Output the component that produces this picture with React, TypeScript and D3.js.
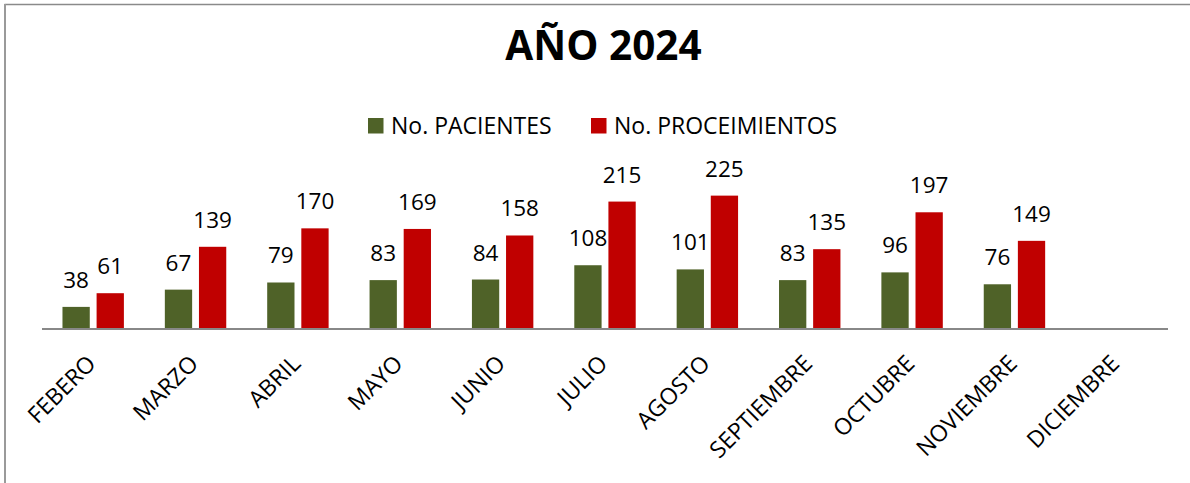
import React from "react";
import * as d3 from "d3";

const categories = ["FEBERO", "MARZO", "ABRIL", "MAYO", "JUNIO", "JULIO", "AGOSTO", "SEPTIEMBRE", "OCTUBRE", "NOVIEMBRE", "DICIEMBRE"];
const pacientes: (number | null)[] = [38, 67, 79, 83, 84, 108, 101, 83, 96, 76, null];
const procedimientos: (number | null)[] = [61, 139, 170, 169, 158, 215, 225, 135, 197, 149, null];
const seriesNames = ["No. PACIENTES", "No. PROCEIMIENTOS"];
const seriesColors = ["#4F6228", "#C00000"];
const title = "AÑO 2024";

const W = 1190;
const H = 483;
const FONT = "'Open Sans', 'Noto Sans', sans-serif";

export default function App() {
  const x0 = d3.scaleBand<string>().domain(categories).range([42, 1168]).paddingInner(0.4).paddingOuter(0.2);
  const x1 = d3.scaleBand<number>().domain([0, 1]).range([0, x0.bandwidth()]).paddingInner(0.2);
  const y = d3.scaleLinear().domain([0, 250]).range([329.5, 329.5 - 0.595 * 250]);
  const series = [pacientes, procedimientos];

  return (
    <svg width={W} height={H} style={{ position: "absolute", left: 0, top: 0, background: "#fff" }}>
      <rect x={0} y={0} width={W} height={H} fill="#fff" />
      {/* chart border */}
      <line x1={4.5} x2={W} y1={4.5} y2={4.5} stroke="#8a8a8a" strokeWidth={1.5} />
      <line x1={5} x2={5} y1={4} y2={H} stroke="#9a9a9a" strokeWidth={2} />

      <text x={603.5} y={60} textAnchor="middle" fontFamily={FONT} fontWeight={700} fontSize={40.5} fill="#000">
        {title}
      </text>

      {/* legend */}
      {seriesNames.map((name, i) => {
        const lx = i === 0 ? 368 : 591;
        return (
          <g key={name}>
            <rect x={lx} y={118} width={15.5} height={15.5} fill={seriesColors[i]} />
            <text x={lx + 23} y={133.5} fontFamily={FONT} fontSize={23} fill="#000">
              {name}
            </text>
          </g>
        );
      })}

      {/* bars */}
      {categories.map((c, ci) => (
        <g key={c} transform={`translate(${x0(c)},0)`}>
          {series.map((s, si) => {
            const v = s[ci];
            if (v == null) return null;
            const bx = x1(si)!;
            const bw = x1.bandwidth();
            return (
              <g key={si}>
                <rect x={bx} y={y(v)} width={bw} height={y(0) - y(v)} fill={seriesColors[si]} />
                <text x={bx + bw / 2} y={y(v) - 19} textAnchor="middle" fontFamily={FONT} fontSize={22.5} fill="#000">
                  {v}
                </text>
              </g>
            );
          })}
        </g>
      ))}

      {/* axis */}
      <line x1={42} x2={1168} y1={329} y2={329} stroke="#888" strokeWidth={2} />

      {/* category labels */}
      {categories.map((c) => {
        const cx = x0(c)! + x0.bandwidth() / 2;
        return (
          <text
            key={c}
            transform={`translate(${cx + 4},${365}) rotate(-45)`}
            textAnchor="end"
            fontFamily={FONT}
            fontSize={23}
            fill="#000"
          >
            {c}
          </text>
        );
      })}
    </svg>
  );
}
